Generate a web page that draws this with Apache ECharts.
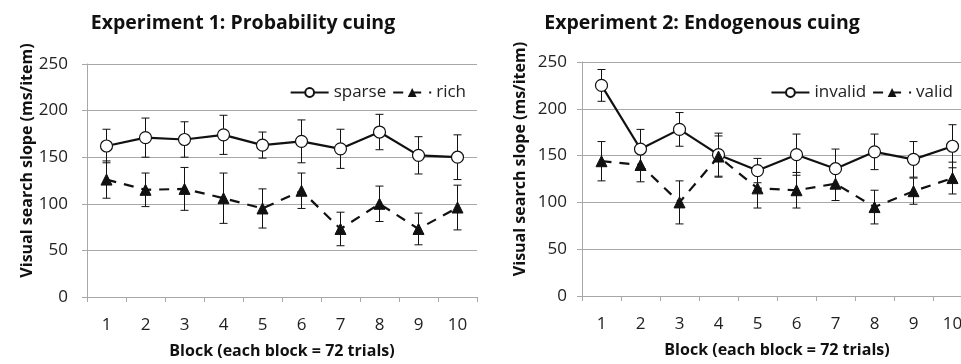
<!DOCTYPE html>
<html lang="en">
<head>
	<meta charset="UTF-8">
	<title>Visual search slope</title>
	<script src="https://cdn.jsdelivr.net/npm/echarts@6/dist/echarts.min.js"></script>
	<style>
		html, body { margin: 0; padding: 0; background: #fff; }
		#main { width: 961px; height: 364px; }
	</style>
</head>
<body>
	<div id="main"></div>
	<script>
		// data
		var blocks = ['1', '2', '3', '4', '5', '6', '7', '8', '9', '10'];
		var yTicks = [0, 50, 100, 150, 200, 250];

		var sparse    = [162, 171, 169, 174, 163, 167, 159, 177, 152, 150];
		var sparseErr = [18, 21, 19, 21, 14, 23, 21, 19, 20, 24];
		var rich      = [126, 115, 116, 106, 95, 114, 73, 100, 73, 96];
		var richErr   = [20, 18, 23, 27, 21, 19, 18, 19, 17, 24];

		var invalid    = [225, 157, 178, 151, 134, 151, 136, 154, 146, 160];
		var invalidErr = [17, 21, 18, 23, 13, 22, 21, 19, 19, 23];
		var valid      = [144, 140, 100, 149, 115, 113, 120, 95, 112, 126];
		var validErr   = [21, 18, 23, 22, 21, 19, 18, 18, 14, 17];

		var font = '"Open Sans", "Noto Sans", sans-serif';
		var gridColor = '#a8a8a8';

		function errData(vals, errs) {
			var out = [];
			for (var i = 0; i < vals.length; i++) {
				out.push([i, vals[i] - errs[i], vals[i] + errs[i]]);
			}
			return out;
		}

		function errSeries(vals, errs, idx) {
			return {
				type: 'custom',
				xAxisIndex: idx,
				yAxisIndex: idx,
				silent: true,
				z: 1,
				data: errData(vals, errs),
				renderItem: function (params, api) {
					var lo = api.coord([api.value(0), api.value(1)]);
					var hi = api.coord([api.value(0), api.value(2)]);
					var w = 4;
					var st = { stroke: '#111', lineWidth: 1 };
					return {
						type: 'group',
						children: [
							{ type: 'line', shape: { x1: lo[0], y1: lo[1], x2: hi[0], y2: hi[1] }, style: st },
							{ type: 'line', shape: { x1: lo[0] - w, y1: lo[1], x2: lo[0] + w, y2: lo[1] }, style: st },
							{ type: 'line', shape: { x1: hi[0] - w, y1: hi[1], x2: hi[0] + w, y2: hi[1] }, style: st }
						]
					};
				}
			};
		}

		function solidSeries(name, vals, idx) {
			return {
				name: name,
				type: 'line',
				xAxisIndex: idx,
				yAxisIndex: idx,
				data: vals,
				symbol: 'circle',
				symbolSize: 12,
				z: 3,
				lineStyle: { color: '#111', width: 2.2 },
				itemStyle: { color: '#fff', borderColor: '#111', borderWidth: 1.2 }
			};
		}

		function dashSeries(name, vals, idx) {
			return {
				name: name,
				type: 'line',
				xAxisIndex: idx,
				yAxisIndex: idx,
				data: vals,
				symbol: 'triangle',
				symbolSize: 11,
				z: 3,
				lineStyle: { color: '#111', width: 2.2, type: [10, 8] },
				itemStyle: { color: '#111', borderColor: '#111' }
			};
		}

		function xAxis(idx) {
			return {
				type: 'category',
				gridIndex: idx,
				data: blocks,
				boundaryGap: true,
				name: 'Block (each block = 72 trials)',
				nameLocation: 'middle',
				nameGap: 46,
				nameTextStyle: { fontFamily: font, fontWeight: 'bold', fontSize: 16, color: '#111' },
				axisLine: { lineStyle: { color: gridColor, width: 1 } },
				axisTick: { show: true, length: 5, lineStyle: { color: gridColor } },
				axisLabel: { fontFamily: font, fontSize: 17, color: '#222', margin: 20 },
				splitLine: { show: false }
			};
		}

		function yAxis(idx, labelMargin, nameGap) {
			return {
				type: 'value',
				gridIndex: idx,
				min: yTicks[0],
				max: yTicks[yTicks.length - 1],
				interval: 50,
				name: 'Visual search slope (ms/item)',
				nameLocation: 'middle',
				nameGap: nameGap,
				nameTextStyle: { fontFamily: font, fontWeight: 'bold', fontSize: 16, color: '#111', padding: [0, 0, 0, 40] },
				axisLine: { show: true, lineStyle: { color: gridColor, width: 1 } },
				axisTick: { show: true, length: 5, lineStyle: { color: gridColor } },
				axisLabel: { fontFamily: font, fontSize: 17, color: '#222', margin: labelMargin },
				splitLine: { show: true, lineStyle: { color: gridColor, width: 1 } }
			};
		}

		var chart = echarts.init(document.getElementById('main'), null, { renderer: 'canvas' });
		chart.setOption({
			animation: false,
			backgroundColor: '#fff',
			title: [
				{ text: 'Experiment 1: Probability cuing', left: 238, top: 8, textAlign: 'center',
				  textStyle: { fontFamily: font, fontWeight: 'bold', fontSize: 19.5, color: '#111' } },
				{ text: 'Experiment 2: Endogenous cuing', left: 697, top: 8, textAlign: 'center',
				  textStyle: { fontFamily: font, fontWeight: 'bold', fontSize: 19.5, color: '#111' } }
			],
			legend: [
				{ data: ['sparse', 'rich'], right: 490, top: 79, itemWidth: 38, itemHeight: 11, itemGap: 6,
				  textStyle: { fontFamily: font, fontSize: 17, color: '#222' } },
				{ data: ['invalid', 'valid'], right: 3, top: 79, itemWidth: 38, itemHeight: 11, itemGap: 6,
				  textStyle: { fontFamily: font, fontSize: 17, color: '#222' } }
			],
			grid: [
				{ left: 87, top: 64, width: 390, bottom: 67, outerBoundsMode: 'none' },
				{ left: 582, top: 62, width: 390, bottom: 68, outerBoundsMode: 'none' }
			],
			xAxis: [xAxis(0), xAxis(1)],
			yAxis: [yAxis(0, 19, 52), yAxis(1, 15, 54)],
			series: [
				errSeries(sparse, sparseErr, 0),
				errSeries(rich, richErr, 0),
				solidSeries('sparse', sparse, 0),
				dashSeries('rich', rich, 0),
				errSeries(invalid, invalidErr, 1),
				errSeries(valid, validErr, 1),
				solidSeries('invalid', invalid, 1),
				dashSeries('valid', valid, 1)
			]
		});
	</script>
</body>
</html>
